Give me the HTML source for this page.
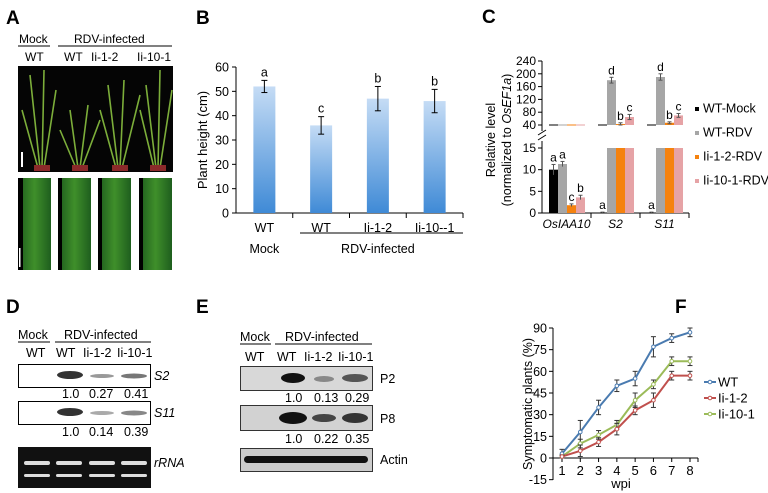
<!DOCTYPE html>
<html><head><meta charset="utf-8"><style>
body{margin:0;background:#fff}
svg{display:block;font-family:"Liberation Sans",Arial,sans-serif}
</style></head><body>
<svg id="fig" width="768" height="493" viewBox="0 0 768 493" xmlns="http://www.w3.org/2000/svg">
<defs>
<linearGradient id="bg" x1="0" y1="0" x2="0" y2="1"><stop offset="0" stop-color="#c5dcf5"/><stop offset="1" stop-color="#3f8ad6"/></linearGradient>
<linearGradient id="leaf" x1="0" y1="0" x2="1" y2="0"><stop offset="0" stop-color="#1d5a1d"/><stop offset="0.5" stop-color="#3f8f2a"/><stop offset="1" stop-color="#1e5e1e"/></linearGradient>
</defs>
<g font-weight="bold" font-size="19" fill="#000">
<text x="6" y="24">A</text>
<text x="196" y="24">B</text>
<text x="482" y="23">C</text>
<text x="6" y="313">D</text>
<text x="196" y="313">E</text>
<text x="675" y="313">F</text>
</g>
<!-- Panel A -->
<g font-size="12">
<text x="19" y="43">Mock</text>
<line x1="18" y1="46" x2="50" y2="46" stroke="#000"/>
<text x="74" y="43">RDV-infected</text>
<line x1="58" y1="46" x2="172" y2="46" stroke="#000"/>
<text x="25" y="61">WT</text>
<text x="64" y="61">WT</text><text x="91" y="61">Ii-1-2</text><text x="137" y="61">Ii-10-1</text>
<rect x="18" y="66" width="155" height="106" fill="#050505"/>
<g stroke="#7cae3a" stroke-width="1.6" fill="none">
<path d="M40 168 L30 75 M42 168 L44 70 M44 168 L56 90 M38 168 L22 110"/>
<path d="M78 168 L70 110 M80 168 L88 105 M82 168 L100 120 M76 168 L60 130"/>
<path d="M118 168 L108 85 M120 168 L124 80 M122 168 L140 95 M116 168 L100 110"/>
<path d="M156 168 L146 85 M158 168 L160 70 M160 168 L172 90 M154 168 L140 110"/>
</g>
<g fill="#8b2a2a"><rect x="34" y="165" width="16" height="6"/><rect x="72" y="165" width="16" height="6"/><rect x="112" y="165" width="16" height="6"/><rect x="150" y="165" width="16" height="6"/></g>
<rect x="21" y="152" width="2" height="15" fill="#fff"/>
<g fill="url(#leaf)">
<rect x="18" y="178" width="33" height="92"/><rect x="58" y="178" width="33" height="92"/><rect x="98" y="178" width="33" height="92"/><rect x="139" y="178" width="33" height="92"/>
</g>
<g fill="#000"><rect x="18" y="178" width="5" height="92"/><rect x="58" y="178" width="4" height="92"/><rect x="98" y="178" width="4" height="92"/><rect x="139" y="178" width="4" height="92"/></g>
<rect x="19" y="248" width="1.5" height="19" fill="#fff"/>
</g>
<!-- Panel B -->
<g id="pB" font-size="12.5"></g>
<!-- Panel C -->
<g id="pC" font-size="12"></g>
<!-- Panel D -->
<g font-size="12.5">
<text x="18" y="339">Mock</text><line x1="18" y1="342" x2="50" y2="342" stroke="#000"/>
<text x="64" y="339">RDV-infected</text><line x1="55" y1="342" x2="151" y2="342" stroke="#000"/>
<text x="26" y="357">WT</text><text x="56" y="357">WT</text><text x="83" y="357">Ii-1-2</text><text x="117" y="357">Ii-10-1</text>
<rect x="18.5" y="364.5" width="132" height="23" fill="#fff" stroke="#000"/>
<ellipse cx="70" cy="375" rx="13" ry="4" fill="#333"/><ellipse cx="102" cy="376" rx="12" ry="2" fill="#999"/><ellipse cx="134" cy="376" rx="13" ry="2.5" fill="#777"/>
<text x="154" y="380" font-style="italic">S2</text>
<text x="62" y="398">1.0</text><text x="89" y="398">0.27</text><text x="124" y="398">0.41</text>
<rect x="18.5" y="401.5" width="132" height="23" fill="#fff" stroke="#000"/>
<ellipse cx="70" cy="412" rx="13" ry="4" fill="#333"/><ellipse cx="102" cy="413" rx="12" ry="2" fill="#aaa"/><ellipse cx="134" cy="413" rx="13" ry="2.5" fill="#888"/>
<text x="154" y="417" font-style="italic">S11</text>
<text x="62" y="436">1.0</text><text x="89" y="436">0.14</text><text x="124" y="436">0.39</text>
<rect x="18" y="447" width="133" height="41" fill="#111"/>
<g fill="#ddd"><rect x="24" y="461" width="26" height="4" rx="2"/><rect x="56" y="461" width="26" height="4" rx="2"/><rect x="89" y="461" width="26" height="4" rx="2"/><rect x="121" y="461" width="26" height="4" rx="2"/>
<rect x="24" y="474" width="26" height="3" rx="1.5"/><rect x="56" y="474" width="26" height="3" rx="1.5"/><rect x="89" y="474" width="26" height="3" rx="1.5"/><rect x="121" y="474" width="26" height="3" rx="1.5"/></g>
<text x="154" y="467" font-style="italic">rRNA</text>
</g>
<!-- Panel E -->
<g font-size="12.5">
<text x="240" y="341">Mock</text><line x1="240" y1="344" x2="271" y2="344" stroke="#000"/>
<text x="285" y="341">RDV-infected</text><line x1="275" y1="344" x2="372" y2="344" stroke="#000"/>
<text x="245" y="361">WT</text><text x="277" y="361">WT</text><text x="304" y="361">Ii-1-2</text><text x="338" y="361">Ii-10-1</text>
<rect x="240.5" y="366.5" width="132" height="24" fill="#d8d8d8" stroke="#333"/>
<ellipse cx="293" cy="378" rx="12" ry="5" fill="#111"/><ellipse cx="324" cy="379" rx="10" ry="3" fill="#888"/><ellipse cx="355" cy="378" rx="13" ry="4" fill="#555"/>
<text x="380" y="383">P2</text>
<text x="285" y="402">1.0</text><text x="314" y="402">0.13</text><text x="345" y="402">0.29</text>
<rect x="240.5" y="405.5" width="132" height="25" fill="#d2d2d2" stroke="#333"/>
<ellipse cx="293" cy="418" rx="14" ry="6" fill="#111"/><ellipse cx="324" cy="418" rx="12" ry="4" fill="#444"/><ellipse cx="355" cy="418" rx="13" ry="5" fill="#333"/>
<text x="380" y="423">P8</text>
<text x="285" y="443">1.0</text><text x="314" y="443">0.22</text><text x="345" y="443">0.35</text>
<rect x="240.5" y="448.5" width="132" height="23" fill="#ccc" stroke="#333"/>
<rect x="244" y="456" width="124" height="7" rx="3.5" fill="#111"/>
<text x="380" y="464">Actin</text>
</g>
<!-- Panel F -->
<g id="pF" font-size="12"></g>
</svg>
<script>
const NS="http://www.w3.org/2000/svg";
function mk(p,t,a,txt){const e=document.createElementNS(NS,t);for(const k in a)e.setAttribute(k,a[k]);if(txt!==undefined)e.textContent=txt;p.appendChild(e);return e;}

// ---- Panel B data ----
const bCats=["WT","WT","Ii-1-2","Ii-10--1"];
const bVals=[52,36,47,46];
const bErr=[2.5,3.6,5,4.8];
const bLetters=["a","c","b","b"];
const bTicks=[0,10,20,30,40,50,60];
{
const g=document.getElementById("pB");
const x0=236,x1=463,y0=213,yT=67;
const ys=v=>y0-(v/60)*(y0-yT);
const step=(x1-x0)/4;
const xc=i=>x0+step*(i+0.5);
mk(g,"line",{x1:x0,y1:yT,x2:x0,y2:y0,stroke:"#000"});
mk(g,"line",{x1:x0,y1:y0,x2:x1,y2:y0,stroke:"#000"});
bTicks.forEach(t=>{mk(g,"line",{x1:x0-4,y1:ys(t),x2:x0,y2:ys(t),stroke:"#000"});
const tx=mk(g,"text",{x:x0-7,y:ys(t)+4.5,"text-anchor":"end"},t);

});
for(let i=1;i<=4;i++)mk(g,"line",{x1:x0+step*i,y1:y0,x2:x0+step*i,y2:y0+5,stroke:"#000"});
bVals.forEach((v,i)=>{
const r=mk(g,"rect",{x:xc(i)-11,y:ys(v),width:22,height:y0-ys(v),fill:"url(#bg)"});


const e1=ys(v+bErr[i]),e2=ys(v-bErr[i]);
mk(g,"line",{x1:xc(i),y1:e1,x2:xc(i),y2:e2,stroke:"#000"});
mk(g,"line",{x1:xc(i)-3,y1:e1,x2:xc(i)+3,y2:e1,stroke:"#000"});
mk(g,"line",{x1:xc(i)-3,y1:e2,x2:xc(i)+3,y2:e2,stroke:"#000"});
mk(g,"text",{x:xc(i),y:e1-4,"text-anchor":"middle"},bLetters[i]);
mk(g,"text",{x:xc(i),y:y0+19,"text-anchor":"middle"},bCats[i]);
});
mk(g,"line",{x1:300,y1:233,x2:463,y2:233,stroke:"#000"});
mk(g,"text",{x:xc(0),y:253,"text-anchor":"middle"},"Mock");
mk(g,"text",{x:(xc(1)+xc(3))/2,y:253,"text-anchor":"middle"},"RDV-infected");
const yl=mk(g,"text",{x:0,y:0,"text-anchor":"middle",transform:"translate(207,140) rotate(-90)","font-size":"13"},"Plant height (cm)");


}

// ---- Panel C data ----
const cGenes=["OsIAA10","S2","S11"];
const cSeries=["WT-Mock","WT-RDV","Ii-1-2-RDV","Ii-10-1-RDV"];
const cColors=["#000","#a6a6a6","#f5820f","#e6a3a6"];
const cVals=[[10,11.3,1.8,3.6],[0.1,180,43,65],[0.1,190,47,70]];
const cErr=[[1.2,0.6,0.3,0.5],[0.1,9,4,8],[0.1,10,3,6]];
const cLetters=[["a","a","c","b"],["a","d","b","c"],["a","d","b","c"]];
const cLowTicks=[0,5,10,15];
const cHighTicks=[40,80,120,160,200,240];
{
const g=document.getElementById("pC");
const x0=542,x1=689,y0=213,yL=148,yH0=125,yH1=61;
const yl=v=>y0-(v/15)*(y0-yL);
const yh=v=>yH0-((v-40)/200)*(yH0-yH1);
const gw=(x1-x0)/3;
mk(g,"line",{x1:x0,y1:y0,x2:x0,y2:141,stroke:"#000"});
mk(g,"line",{x1:x0,y1:131,x2:x0,y2:yH1,stroke:"#000"});
mk(g,"line",{x1:x0-4,y1:140,x2:x0+4,y2:135,stroke:"#000"});
mk(g,"line",{x1:x0-4,y1:135,x2:x0+4,y2:130,stroke:"#000"});
mk(g,"line",{x1:x0,y1:y0,x2:x1,y2:y0,stroke:"#000"});
cLowTicks.forEach(t=>{mk(g,"line",{x1:x0-4,y1:yl(t),x2:x0,y2:yl(t),stroke:"#000"});mk(g,"text",{x:x0-6,y:yl(t)+4,"text-anchor":"end"},t);});
cHighTicks.forEach(t=>{mk(g,"line",{x1:x0-4,y1:yh(t),x2:x0,y2:yh(t),stroke:"#000"});mk(g,"text",{x:x0-6,y:yh(t)+4,"text-anchor":"end"},t);});
for(let i=1;i<=3;i++)mk(g,"line",{x1:x0+gw*i,y1:y0,x2:x0+gw*i,y2:y0+5,stroke:"#000"});
cGenes.forEach((gn,gi)=>{
const bx=x0+gw*gi+7;
mk(g,"text",{x:x0+gw*(gi+0.5),y:y0+15,"text-anchor":"middle","font-style":"italic"},gn);
cVals[gi].forEach((v,si)=>{
const x=bx+si*9;
const lowTop=v>15?yL:yl(v);
const r=mk(g,"rect",{x:x,y:lowTop,width:9,height:y0-lowTop,fill:cColors[si]});


let cx=x+4.5,top;
if(v>15){
const ht=yh(Math.max(v,40));
const rh=mk(g,"rect",{x:x,y:ht,width:9,height:Math.max(yH0-ht,1),fill:cColors[si]});


const e1=yh(v+cErr[gi][si]),e2=yh(Math.max(v-cErr[gi][si],40));
mk(g,"line",{x1:cx,y1:e1,x2:cx,y2:e2,stroke:"#555"});
mk(g,"line",{x1:cx-2,y1:e1,x2:cx+2,y2:e1,stroke:"#555"});
mk(g,"line",{x1:cx-2,y1:e2,x2:cx+2,y2:e2,stroke:"#555"});
top=e1;
}else{
mk(g,"line",{x1:x,y1:yH0,x2:x+9,y2:yH0,stroke:cColors[si],"stroke-width":1});
const e1=yl(v+cErr[gi][si]),e2=yl(Math.max(v-cErr[gi][si],0));
mk(g,"line",{x1:cx,y1:e1,x2:cx,y2:e2,stroke:"#555"});
mk(g,"line",{x1:cx-2,y1:e1,x2:cx+2,y2:e1,stroke:"#555"});
top=e1;
}
mk(g,"text",{x:cx,y:top-3,"text-anchor":"middle"},cLetters[gi][si]);
});
});
mk(g,"text",{x:0,y:0,"text-anchor":"middle",transform:"translate(495,140) rotate(-90)","font-size":"12.5"},"Relative level");
const t2=mk(g,"text",{x:0,y:0,"text-anchor":"middle",transform:"translate(511,140) rotate(-90)","font-size":"12.5"});
t2.innerHTML='(normalized to <tspan font-style="italic">OsEF1a</tspan>)';
cSeries.forEach((s,i)=>{
const yy=111+i*24;
const r=mk(g,"rect",{x:695,y:yy-4,width:4,height:4,fill:cColors[i]});


mk(g,"text",{x:703,y:yy+1.5,"font-size":"12.5"},s);
});
}

// ---- Panel F data ----
const fWeeks=[1,2,3,4,5,6,7,8];
const fNames=["WT","Ii-1-2","Ii-10-1"];
const fColors=["#4a7bb0","#c0504d","#9bbb59"];
const fWT=[3,18,35,50,55,77,83,87];
const fIi12=[1,5,11,20,33,40,57,57];
const fIi101=[1,10,16,23,40,51,67,67];
const fErrWT=[3,8,5,4,5,7,3,3];
const fErrIi12=[1,4,3,4,3,5,3,3];
const fErrIi101=[1,3,3,3,5,3,3,3];
const fTicks=[-15,0,15,30,45,60,75,90];
{
const g=document.getElementById("pF");
const x0=553,yZ=458,y90=328,yM=480;
const ys=v=>yZ-(v/90)*(yZ-y90);
const xs=w=>562+(w-1)*(690-562)/7;
mk(g,"line",{x1:x0,y1:y90,x2:x0,y2:yM,stroke:"#000"});
mk(g,"line",{x1:x0,y1:yZ,x2:698,y2:yZ,stroke:"#000"});
fTicks.forEach(t=>{mk(g,"line",{x1:x0-4,y1:ys(t),x2:x0,y2:ys(t),stroke:"#000"});mk(g,"text",{x:x0-6,y:ys(t)+4.5,"text-anchor":"end","font-size":"12.5"},t);});
fWeeks.forEach(w=>{mk(g,"line",{x1:xs(w),y1:yZ,x2:xs(w),y2:yZ+4,stroke:"#000"});mk(g,"text",{x:xs(w),y:yZ+17,"text-anchor":"middle","font-size":"13"},w);});
mk(g,"line",{x1:698,y1:yZ,x2:698,y2:yZ+4,stroke:"#000"});
mk(g,"text",{x:621,y:488,"text-anchor":"middle","font-size":"13"},"wpi");
mk(g,"text",{x:0,y:0,"text-anchor":"middle",transform:"translate(532,404) rotate(-90)","font-size":"12.5"},"Symptomatic plants (%)");
const all=[fWT,fIi12,fIi101],errs=[fErrWT,fErrIi12,fErrIi101];
[0,2,1].forEach(si=>{
const d=all[si];
const p=mk(g,"polyline",{points:d.map((v,i)=>xs(fWeeks[i])+","+ys(v)).join(" "),fill:"none",stroke:fColors[si],"stroke-width":2});


d.forEach((v,i)=>{const x=xs(fWeeks[i]),e=errs[si][i];
mk(g,"line",{x1:x,y1:ys(v+e),x2:x,y2:ys(v-e),stroke:"#333"});
mk(g,"line",{x1:x-2.5,y1:ys(v+e),x2:x+2.5,y2:ys(v+e),stroke:"#333"});
mk(g,"line",{x1:x-2.5,y1:ys(v-e),x2:x+2.5,y2:ys(v-e),stroke:"#333"});
mk(g,"circle",{cx:x,cy:ys(v),r:1.8,fill:"#fff",stroke:fColors[si]});});
});
fNames.forEach((n,i)=>{const yy=382+i*16;
mk(g,"line",{x1:704,y1:yy,x2:716,y2:yy,stroke:fColors[i],"stroke-width":2});
mk(g,"circle",{cx:710,cy:yy,r:1.8,fill:"#fff",stroke:fColors[i]});
const t=mk(g,"text",{x:718,y:yy+4.5,"font-size":"13"},n);

});
}
</script>
</body></html>
